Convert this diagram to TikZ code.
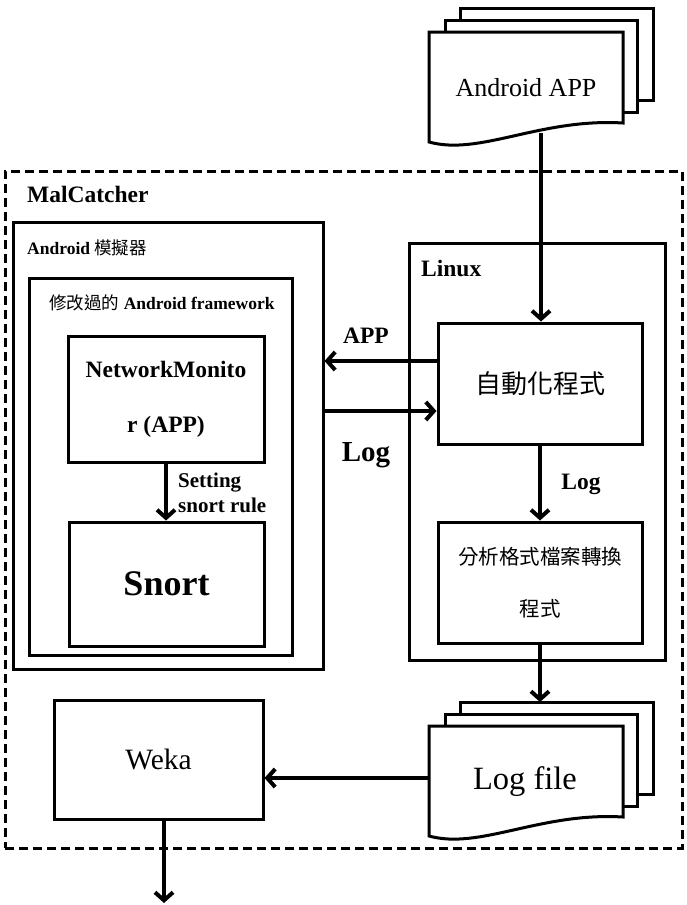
\documentclass[tikz,border=0pt]{standalone}
\usepackage{fontspec}
\setmainfont{Liberation Serif}
\newfontfamily\cjk{Noto Sans CJK TC}
\usetikzlibrary{arrows.meta}
\tikzset{
  box/.style={draw, line width=3pt, fill=white, inner sep=0pt},
  frame/.style={draw, line width=3pt, inner sep=0pt},
  arr/.style={line width=4pt, -{Straight Barb[length=8pt,width=18pt]}},
  lbl/.style={font=\bfseries\fontsize{23.5}{26}\selectfont, inner sep=0pt},
  sheet/.style={draw, line width=3pt, fill=white, line join=miter},
  docstack/.pic={
    \draw[sheet] (31,-24) rectangle (224,68);
    \draw[sheet] (16,-12) rectangle (208,80);
    \draw[sheet] (0,110) -- (0,0) -- (194,0) -- (194,91)
       .. controls (111,86) and (51,124) .. (0,110) -- cycle;
    \coordinate (-top) at (112,-24);
    \coordinate (-wave) at (112,101);
    \coordinate (-left) at (0,52);
  }
}
\begin{document}
\begin{tikzpicture}[x=1pt,y=-1pt]
\useasboundingbox (0,0) rectangle (686,905);

% outer dashed frame
\node[draw, line width=3pt, dash pattern=on 9pt off 5pt, minimum width=677pt, minimum height=677pt, inner sep=0pt] (mal) at (343.5,509.5) {};
\node[lbl, anchor=west] (maltitle) at (27,194) {MalCatcher};

% Android emulator
\node[frame, minimum width=310pt, minimum height=447pt] (emu) at (168,445.5) {};
\node[anchor=west, inner sep=0pt, font=\fontsize{17.5}{20}\selectfont] (emutitle) at (27,248) {{\bfseries Android} {\cjk 模擬器}};

\node[frame, minimum width=263pt, minimum height=377pt] (fw) at (160.5,466.5) {};
\node[inner sep=0pt, font=\fontsize{17.5}{20}\selectfont] (fwtitle) at (162,303) {{\cjk 修改過的} \bfseries Android framework};

\node[box, minimum width=196pt, minimum height=126pt, align=center, font=\bfseries\fontsize{23.5}{55}\selectfont] (nm) at (166,399) {NetworkMonito\\r (APP)};
\node[box, minimum width=195pt, minimum height=124pt, font=\bfseries\fontsize{36}{40}\selectfont] (snort) at (166.5,584) {Snort};
\draw[arr] (nm.south) -- (nm.south |- snort.north);
\node[anchor=west, align=left, inner sep=0pt, font=\bfseries\fontsize{21}{25}\selectfont] (setlbl) at (178,492.5) {Setting\\snort rule};

% Linux
\node[frame, minimum width=256pt, minimum height=417pt] (linux) at (537,451.5) {};
\node[lbl, anchor=west] (linuxtitle) at (421,268) {Linux};

\node[box, minimum width=204pt, minimum height=121pt, font=\cjk\fontsize{26}{30}\selectfont] (auto) at (540,383.5) {自動化程式};
\node[box, minimum width=204pt, minimum height=121pt, align=center, font=\cjk\fontsize{20.5}{52}\selectfont] (conv) at (540,582.5) {分析格式檔案轉換\\程式};
\draw[arr] (auto.south) -- (conv.north);
\node[lbl] (loglbl2) at (581,484) {Log};

% APP / Log arrows
\draw[arr] ([yshift=22.5pt]auto.west) -- ([yshift=22.5pt]auto.west -| emu.east);
\draw[arr] ([yshift=-27.5pt]auto.west -| emu.east) -- ([yshift=-27.5pt]auto.west);
\node[lbl] (applbl) at (366,336) {APP};
\node[lbl, font=\bfseries\fontsize{29}{32}\selectfont] (loglbl) at (366,455) {Log};

% Android APP stack
\pic (apk) at (429,32) {docstack};
\node[inner sep=0pt, font=\fontsize{26}{30}\selectfont] (apptext) at (526,88) {Android APP};
\draw[arr] (apk-wave) -- (apk-wave |- auto.north);

% Log file stack
\pic (logf) at (429,726) {docstack};
\node[inner sep=0pt, font=\fontsize{32.5}{36}\selectfont] (logtext) at (525,782) {Log file};
\draw[arr] (conv.south) -- (conv.south |- logf-top);

% Weka
\node[box, minimum width=209pt, minimum height=119pt, font=\fontsize{29.5}{32}\selectfont] (weka) at (158.5,759.5) {Weka};
\draw[arr] (logf-left) -- (logf-left -| weka.east);
\coordinate (out) at (164,903);
\draw[arr] (weka.south -| out) -- (out);
\end{tikzpicture}
\end{document}
